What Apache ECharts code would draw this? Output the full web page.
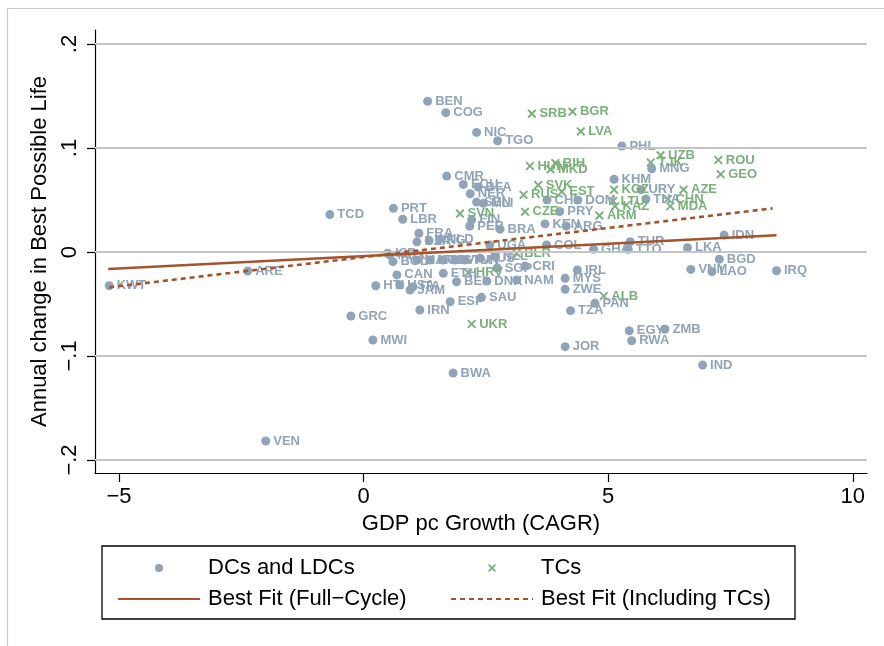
<!DOCTYPE html>
<html>
<head>
<meta charset="utf-8">
<script src="https://cdn.jsdelivr.net/npm/echarts@6/dist/echarts.min.js"></script>
<style>
  html, body { margin: 0; padding: 0; background: #fff; }
  #chart { width: 884px; height: 646px; }
</style>
</head>
<body>
<div id="chart"></div>
<script>
// Developing / least-developed countries
const dcNames = ['BEN','COG','NIC','TGO','PHL','MNG','KHM','CMR','ECU','BFA','NER','SEN','MLI','PRT','TCD','LBR','FIN','PER','BRA','PRY','KEN','ARG','CHL','DOM','URY','THA','FRA','DZA','HKG','NLD','UGA','COL','GHA','TUR','TTO','LKA','IDN','BGD','VNM','LAO','IRQ','IRL','MYS','ZWE','PAN','TZA','EGY','ZMB','RWA','JOR','IND','CRI','SGP','NAM','BEL','DNK','ETH','CAN','HTI','USA','JAM','ITA','SAU','ESP','IRN','GRC','MWI','BWA','VEN','KWT','ARE','ISR','MEX','BOL','MAR','KOR','SLV','GTM','TUN','AUS','NZL'];
const dcX = [1.31,1.68,2.31,2.74,5.28,5.89,5.12,1.70,2.04,2.34,2.18,2.31,2.45,0.61,-0.69,0.80,2.21,2.17,2.79,4.01,3.71,4.14,3.75,4.38,5.67,5.77,1.13,1.09,1.34,1.55,2.58,3.74,4.70,5.45,5.41,6.62,7.37,7.27,6.69,7.12,8.44,4.37,4.12,4.12,4.73,4.23,5.43,6.16,5.48,4.12,6.93,3.30,2.73,3.13,1.90,2.52,1.63,0.68,0.25,0.74,0.95,1.01,2.41,1.77,1.15,-0.26,0.19,1.83,-2.00,-5.20,-2.37,0.49,0.54,0.60,1.09,1.36,1.62,1.87,2.07,2.38,2.69];
const dcY = [0.145,0.134,0.115,0.107,0.102,0.080,0.070,0.073,0.065,0.0625,0.056,0.048,0.0468,0.042,0.036,0.0315,0.031,0.025,0.022,0.039,0.027,0.025,0.050,0.050,0.060,0.051,0.018,0.0098,0.011,0.012,0.0067,0.0067,0.0026,0.0099,0.0026,0.0041,0.0163,-0.0070,-0.0167,-0.0189,-0.018,-0.0173,-0.0253,-0.0359,-0.0493,-0.0564,-0.0757,-0.0743,-0.0853,-0.0910,-0.1087,-0.0135,-0.0154,-0.0269,-0.0286,-0.0279,-0.0205,-0.022,-0.0324,-0.0317,-0.0365,-0.0334,-0.0436,-0.0478,-0.0558,-0.0615,-0.0846,-0.1163,-0.1817,-0.0324,-0.0183,-0.0013,-0.0029,-0.0093,-0.0077,-0.0077,-0.0077,-0.0077,-0.0077,-0.0061,-0.0045];

// Transition countries
const tcNames = ['SRB','BGR','LVA','UZB','TJK','ROU','GEO','HUN','BIH','MKD','SVK','RUS','EST','KGZ','AZE','LTU','KAZ','MDA','CHN','ARM','SVN','CZE','BLR','HRV','ALB','UKR'];
const tcX = [3.44,4.27,4.44,6.07,5.87,7.25,7.30,3.40,3.92,3.82,3.57,3.27,4.05,5.12,6.54,5.10,5.14,6.27,6.22,4.82,1.97,3.30,3.13,2.14,4.91,2.21];
const tcY = [0.133,0.135,0.116,0.093,0.086,0.0885,0.0747,0.0827,0.0855,0.0795,0.0644,0.055,0.058,0.060,0.060,0.049,0.044,0.044,0.051,0.035,0.037,0.0388,-0.0013,-0.0199,-0.0423,-0.0692];

// Fitted lines (end points)
const fitFullX = [-5.22, 8.44];
const fitFullY = [-0.0163, 0.0161];
const fitAllX = [-5.20, 8.36];
const fitAllY = [-0.034, 0.042];

// Axis ticks
const xTicks = [-5, 0, 5, 10];
const xTickLabels = ['\u22125', '0', '5', '10'];
const yTicks = [-0.2, -0.1, 0, 0.1, 0.2];
const yTickLabels = ['\u2212.2', '\u2212.1', '0', '.1', '.2'];

const FONT = 'Liberation Sans, Arial, Helvetica, sans-serif';
const DC_COLOR = '#8fa3b9';
const TC_COLOR = '#7ab07a';
const FIT_COLOR = '#a5532b';
const CROSS = 'path://M1.5,0 L5,3.5 L8.5,0 L10,1.5 L6.5,5 L10,8.5 L8.5,10 L5,6.5 L1.5,10 L0,8.5 L3.5,5 L0,1.5 Z';

function pick(ticks, labels) {
  return function (v) {
    for (let i = 0; i < ticks.length; i++) {
      if (Math.abs(ticks[i] - v) < 1e-9) return labels[i];
    }
    return '';
  };
}

const pointLabel = (color) => ({
  show: true,
  position: 'right',
  distance: 3,
  formatter: '{b}',
  color: color,
  fontFamily: FONT,
  fontWeight: 'bold',
  fontSize: 13
});

const legendText = { fontSize: 22, color: '#000', fontFamily: FONT, padding: [0, 0, 0, 3] };
const lineKey = (name) => ({ name: name, itemStyle: { opacity: 0 } });

const chart = echarts.init(document.getElementById('chart'), null, { renderer: 'canvas' });

chart.setOption({
  animation: false,
  backgroundColor: '#fff',
  textStyle: { fontFamily: FONT },
  grid: { left: 95, right: 17, top: 30, bottom: 173, containLabel: false },
  xAxis: {
    type: 'value',
    min: -5.49,
    max: 10.29,
    name: 'GDP pc Growth (CAGR)',
    nameLocation: 'middle',
    nameGap: 38,
    nameTextStyle: { fontSize: 22, color: '#000', fontFamily: FONT },
    axisLine: { show: true, onZero: false, lineStyle: { color: '#000', width: 1.2 } },
    axisTick: { show: true, length: 9, customValues: xTicks, lineStyle: { color: '#000', width: 1.2 } },
    axisLabel: { customValues: xTicks, formatter: pick(xTicks, xTickLabels), fontSize: 22, color: '#000', margin: 13, fontFamily: FONT },
    splitLine: { show: false }
  },
  yAxis: {
    type: 'value',
    min: -0.2125,
    max: 0.2135,
    name: 'Annual change in Best Possible Life',
    nameLocation: 'middle',
    nameGap: 37,
    nameTextStyle: { fontSize: 22, color: '#000', fontFamily: FONT },
    axisLine: { show: true, onZero: false, lineStyle: { color: '#000', width: 1.2 } },
    axisTick: { show: true, length: 8, customValues: yTicks, lineStyle: { color: '#000', width: 1.2 } },
    axisLabel: { customValues: yTicks, formatter: pick(yTicks, yTickLabels), rotate: 90, fontSize: 22, color: '#000', margin: 14, fontFamily: FONT },
    splitLine: { show: false }
  },
  legend: [
    {
      left: 112, top: 552, orient: 'vertical',
      data: ['DCs and LDCs', lineKey('Best Fit (Full\u2212Cycle)')],
      itemWidth: 82, itemHeight: 8, itemGap: 9,
      selectedMode: false,
      textStyle: legendText
    },
    {
      left: 445, top: 552, orient: 'vertical',
      data: ['TCs', lineKey('Best Fit (Including TCs)')],
      itemWidth: 82, itemHeight: 8, itemGap: 9,
      selectedMode: false,
      textStyle: legendText
    }
  ],
  graphic: [
    { type: 'rect', silent: true, shape: { x: 7.5, y: 8.5, width: 920, height: 700 }, style: { fill: 'none', stroke: '#c8c8c8', lineWidth: 1.2 } },
    { type: 'rect', silent: true, shape: { x: 102, y: 546, width: 693, height: 73 }, style: { fill: 'none', stroke: '#000', lineWidth: 1.3 } }
  ],
  series: [
    {
      name: 'grid',
      type: 'line',
      data: [],
      z: 1,
      silent: true,
      markLine: {
        silent: true,
        symbol: ['none', 'none'],
        label: { show: false },
        lineStyle: { color: '#c4c4c4', width: 2, type: 'solid' },
        data: yTicks.map(v => ({ yAxis: v }))
      }
    },
    {
      name: 'DCs and LDCs',
      type: 'scatter',
      z: 3,
      symbol: 'circle',
      symbolSize: 9,
      itemStyle: { color: DC_COLOR, opacity: 1 },
      label: pointLabel(DC_COLOR),
      data: dcNames.map((n, i) => ({ name: n, value: [dcX[i], dcY[i]] }))
    },
    {
      name: 'TCs',
      type: 'scatter',
      z: 3,
      symbol: CROSS,
      symbolSize: 9,
      itemStyle: { color: TC_COLOR, opacity: 1 },
      label: pointLabel(TC_COLOR),
      data: tcNames.map((n, i) => ({ name: n, value: [tcX[i], tcY[i]] }))
    },
    {
      name: 'Best Fit (Full\u2212Cycle)',
      type: 'line',
      z: 5,
      symbol: 'none',
      lineStyle: { color: FIT_COLOR, width: 2.6, type: 'solid' },
      itemStyle: { color: FIT_COLOR },
      data: fitFullX.map((x, i) => [x, fitFullY[i]])
    },
    {
      name: 'Best Fit (Including TCs)',
      type: 'line',
      z: 5,
      symbol: 'none',
      lineStyle: { color: FIT_COLOR, width: 2.6, type: [5, 4] },
      itemStyle: { color: FIT_COLOR },
      data: fitAllX.map((x, i) => [x, fitAllY[i]])
    }
  ]
});
</script>
</body>
</html>
